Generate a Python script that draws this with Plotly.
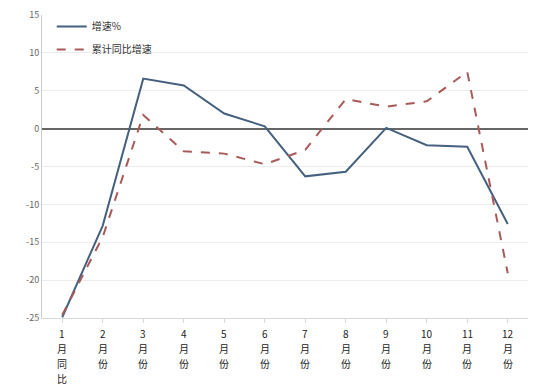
import plotly.graph_objects as go

categories = ["1月同比", "2月份", "3月份", "4月份", "5月份", "6月份", "7月份", "8月份",
              "9月份", "10月份", "11月份", "12月份"]
label_rows = [["1", "月", "同", "比"], ["2", "月", "份"], ["3", "月", "份"], ["4", "月", "份"],
              ["5", "月", "份"], ["6", "月", "份"], ["7", "月", "份"], ["8", "月", "份"],
              ["9", "月", "份"], ["10", "月", "份"], ["11", "月", "份"], ["12", "月", "份"]]
series_a_name = "增速%"
series_b_name = "累计同比增速"
series_a = [-24.9, -12.8, 6.6, 5.7, 2.0, 0.3, -6.3, -5.7, 0.1, -2.2, -2.4, -12.6]
series_b = [-24.6, -14.3, 1.8, -3.0, -3.3, -4.7, -2.8, 3.9, 2.9, 3.6, 7.5, -19.1]
y_ticks = [15, 10, 5, 0, -5, -10, -15, -20, -25]

fig = go.Figure()
fig.add_trace(go.Scatter(x=categories, y=series_a, mode="lines", name=series_a_name,
                         legendgroup="a", line=dict(color="#45617f", width=2)))
fig.add_trace(go.Scatter(x=categories, y=series_b, mode="lines", name=series_b_name,
                         legendgroup="b", line=dict(color="#a85a58", width=2, dash="dash")))

annotations = []
for cat, rows in zip(categories, label_rows):
    for j, ch in enumerate(rows):
        annotations.append(dict(x=cat, xref="x", y=0, yref="paper", text=ch, showarrow=False,
                                yanchor="top", xanchor="center", yshift=-6 - 15 * j,
                                font=dict(size=10, color="#222")))

fig.update_layout(
    width=533, height=387,
    margin=dict(l=42, r=5, t=15, b=69),
    paper_bgcolor="white", plot_bgcolor="white",
    font=dict(family="Noto Sans CJK SC, DejaVu Sans", size=10, color="#333"),
    showlegend=True,
    legend=dict(x=0.02, y=1.01, xanchor="left", yanchor="top", bgcolor="rgba(0,0,0,0)",
                font=dict(size=10, color="#333"), tracegroupgap=4),
    annotations=annotations,
)
fig.update_xaxes(type="category", range=[-0.5, len(categories) - 0.5],
                 showgrid=False, showline=True, linecolor="#d8d8d8", linewidth=1,
                 ticks="outside", ticklen=4, tickcolor="#d8d8d8", showticklabels=False)
fig.update_yaxes(range=[-25, 15], tickvals=y_ticks, ticktext=[str(v) for v in y_ticks],
                 showgrid=True, gridcolor="#ececec", gridwidth=1,
                 showline=True, linecolor="#cccccc", linewidth=1,
                 zeroline=True, zerolinecolor="#666666", zerolinewidth=1.5,
                 tickfont=dict(size=9, color="#666"))
fig.write_html("out.html")
